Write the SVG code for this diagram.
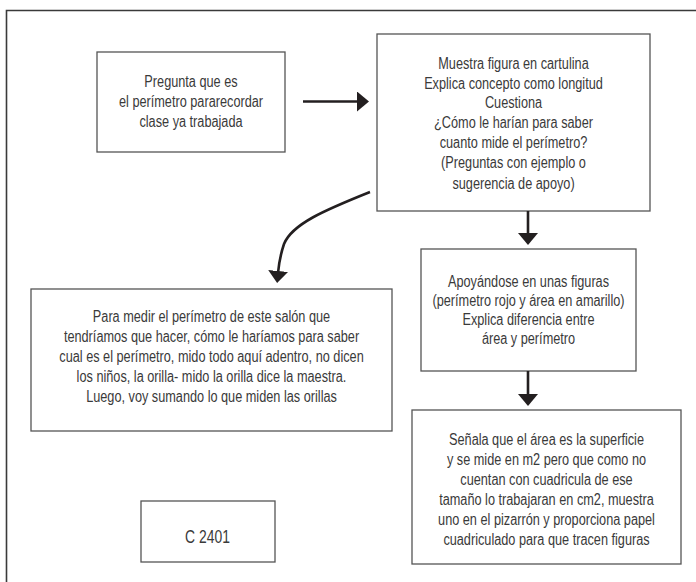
<svg xmlns="http://www.w3.org/2000/svg" width="696" height="582" viewBox="0 0 696 582">
<style>
.box{fill:#fff;stroke:#555;stroke-width:1.3}
.t{font-family:"Liberation Sans",Arial,sans-serif;font-size:16px;fill:#3a3a3a;text-anchor:middle}
.c{fill:none;stroke:#231f20;stroke-width:2.6}
.frame{fill:none;stroke:#3a3a3a;stroke-width:1.6}
</style>
<defs>
<marker id="ah" viewBox="0 0 12 20" markerWidth="12" markerHeight="20" refX="2" refY="10" orient="auto" markerUnits="userSpaceOnUse">
<path d="M0,0 L12,10 L0,20 z" fill="#231f20"/>
</marker>
</defs>
<rect width="696" height="582" fill="#fff"/>
<path class="frame" d="M6.5,582 L6.5,10.5 L696,10.5"/>
<g id="n1">
<rect class="box" x="97" y="52" width="188" height="100"/>
<g transform="translate(191,0) scale(0.795,1)">
<text class="t" x="0" y="87.5">Pregunta que es</text>
<text class="t" x="0" y="107.5">el perímetro pararecordar</text>
<text class="t" x="0" y="127.5">clase ya trabajada</text>
</g>
</g>
<g id="n2">
<rect class="box" x="377" y="34" width="273" height="177"/>
<g transform="translate(513.5,0) scale(0.795,1)">
<text class="t" x="0" y="69.5">Muestra figura en cartulina</text>
<text class="t" x="0" y="89">Explica concepto como longitud</text>
<text class="t" x="0" y="108.5">Cuestiona</text>
<text class="t" x="0" y="128">¿Cómo le harían para saber</text>
<text class="t" x="0" y="148">cuanto mide el perímetro?</text>
<text class="t" x="0" y="168">(Preguntas con ejemplo o</text>
<text class="t" x="0" y="189">sugerencia de apoyo)</text>
</g>
</g>
<g id="n3">
<rect class="box" x="31" y="289" width="361" height="142"/>
<g transform="translate(211.5,0) scale(0.795,1)">
<text class="t" x="0" y="322.5">Para medir el perímetro de este salón que</text>
<text class="t" x="0" y="342.5">tendríamos que hacer, cómo le haríamos  para saber</text>
<text class="t" x="0" y="362.5">cual es el perímetro, mido todo aquí adentro, no dicen</text>
<text class="t" x="0" y="382.5">los niños, la orilla- mido la orilla dice la maestra.</text>
<text class="t" x="0" y="402.5">Luego, voy sumando lo que miden las orillas</text>
</g>
</g>
<g id="n4">
<rect class="box" x="421" y="249" width="215" height="122"/>
<g transform="translate(528.5,0) scale(0.795,1)">
<text class="t" x="0" y="287">Apoyándose en unas figuras</text>
<text class="t" x="0" y="306">(perímetro rojo y área en amarillo)</text>
<text class="t" x="0" y="325">Explica diferencia entre</text>
<text class="t" x="0" y="344.5">área y perímetro</text>
</g>
</g>
<g id="n5">
<rect class="box" x="412" y="410" width="269" height="154"/>
<g transform="translate(546.5,0) scale(0.795,1)">
<text class="t" x="0" y="445.5">Señala que el área es la superficie</text>
<text class="t" x="0" y="465.5">y se mide en m2 pero que como no</text>
<text class="t" x="0" y="485.5">cuentan con cuadricula de ese</text>
<text class="t" x="0" y="505.5">tamaño lo trabajaran en cm2, muestra</text>
<text class="t" x="0" y="525.5">uno en el pizarrón y proporciona papel</text>
<text class="t" x="0" y="545.5">cuadriculado para que tracen figuras</text>
</g>
</g>
<g id="n6">
<rect class="box" x="141" y="501" width="134" height="61"/>
<g transform="translate(207.5,0) scale(0.795,1)">
<text class="t" x="0" y="543" style="font-size:17.5px">C 2401</text>
</g>
</g>
<g id="connectors">
<line class="c" x1="303" y1="101.5" x2="359" y2="101.5" marker-end="url(#ah)"/>
<path class="c" d="M370,192 C325,210 292,224 284,244 C281,253 279,262 278,273" marker-end="url(#ah)"/>
<line class="c" x1="528" y1="211" x2="528" y2="235" marker-end="url(#ah)"/>
<line class="c" x1="528" y1="371" x2="528" y2="396" marker-end="url(#ah)"/>
</g>
</svg>
